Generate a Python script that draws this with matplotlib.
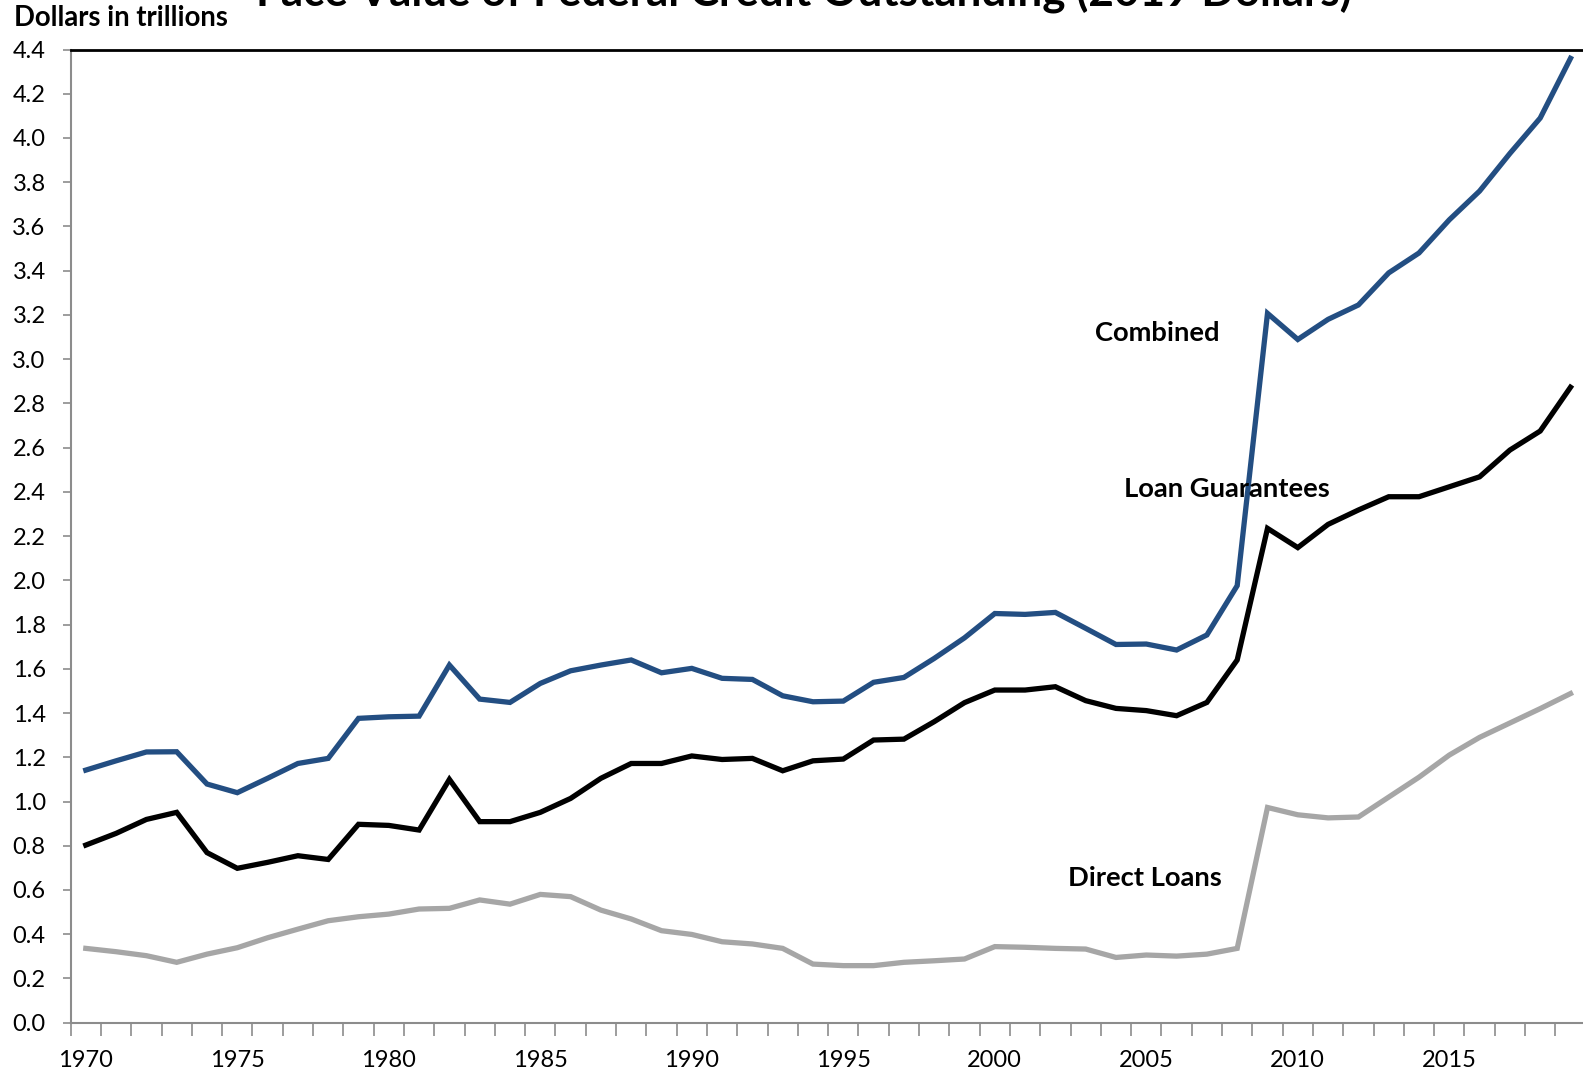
import matplotlib
matplotlib.use("Agg")
import matplotlib.pyplot as plt
import numpy as np

years = list(range(1970, 2020))

combined = [1.142, 1.184, 1.224, 1.225, 1.079, 1.040, 1.105, 1.172, 1.195, 1.376,
            1.383, 1.386, 1.617, 1.463, 1.448, 1.534, 1.591, 1.617, 1.640, 1.582,
            1.602, 1.557, 1.552, 1.478, 1.451, 1.454, 1.539, 1.561, 1.647, 1.740,
            1.850, 1.846, 1.855, 1.783, 1.710, 1.712, 1.685, 1.753, 1.976, 3.207,
            3.089, 3.180, 3.245, 3.390, 3.480, 3.630, 3.760, 3.930, 4.090, 4.360]

loan_guarantees = [0.803, 0.856, 0.919, 0.951, 0.769, 0.698, 0.725, 0.755, 0.738, 0.897,
                   0.892, 0.871, 1.100, 0.909, 0.909, 0.951, 1.014, 1.105, 1.172, 1.172,
                   1.206, 1.190, 1.195, 1.139, 1.184, 1.192, 1.278, 1.282, 1.361, 1.447,
                   1.504, 1.504, 1.519, 1.456, 1.421, 1.411, 1.388, 1.448, 1.640, 2.235,
                   2.148, 2.253, 2.318, 2.378, 2.378, 2.423, 2.468, 2.589, 2.675, 2.873]

direct_loans = [0.336, 0.321, 0.303, 0.273, 0.310, 0.339, 0.384, 0.423, 0.461, 0.479,
                0.491, 0.514, 0.517, 0.555, 0.536, 0.580, 0.570, 0.509, 0.469, 0.416,
                0.399, 0.366, 0.356, 0.336, 0.265, 0.258, 0.258, 0.273, 0.280, 0.288,
                0.344, 0.341, 0.336, 0.333, 0.295, 0.306, 0.301, 0.310, 0.336, 0.973,
                0.940, 0.926, 0.930, 1.020, 1.110, 1.210, 1.290, 1.355, 1.420, 1.488]

y_ticks = [0.0, 0.2, 0.4, 0.6, 0.8, 1.0, 1.2, 1.4, 1.6, 1.8, 2.0, 2.2,
           2.4, 2.6, 2.8, 3.0, 3.2, 3.4, 3.6, 3.8, 4.0, 4.2, 4.4]
x_label_years = [1970, 1975, 1980, 1985, 1990, 1995, 2000, 2005, 2010, 2015]

title = "Face Value of Federal Credit Outstanding (2019 Dollars)"
ylabel = "Dollars in trillions"

plt.rcParams['font.family'] = ['Lato', 'DejaVu Sans']

fig = plt.figure(figsize=(15.83, 10.73), dpi=100)
ax = fig.add_axes([70.65 / 1583, 1 - 1022.7 / 1073,
                   (1585.65 - 70.65) / 1583, (1022.7 - 49.5) / 1073])

ax.plot(years, combined, color='#234E82', lw=3.8, solid_joinstyle='miter', zorder=3)
ax.plot(years, loan_guarantees, color='black', lw=3.8, solid_joinstyle='miter', zorder=3)
ax.plot(years, direct_loans, color='#A6A6A6', lw=3.8, solid_joinstyle='miter', zorder=3)

ax.set_xlim(1969.5, 2019.5)
ax.set_ylim(0, 4.4)

ax.set_yticks(y_ticks)
ax.set_yticklabels([f"{v:.1f}" for v in y_ticks])
ax.set_xticks(x_label_years)
ax.set_xticklabels([str(y) for y in x_label_years])
ax.set_xticks(np.arange(1969.5, 2020.0, 1.0), minor=True)

ax.tick_params(axis='y', which='major', length=6, width=1.2, color='#8C8C8C',
               labelsize=17, pad=12, labelcolor='black')
ax.tick_params(axis='x', which='major', length=0, labelsize=17, pad=20)
ax.tick_params(axis='x', which='minor', length=9, width=1.2, color='#8C8C8C')

for s in ['left', 'bottom']:
    ax.spines[s].set_color('#8C8C8C')
    ax.spines[s].set_linewidth(1.5)
ax.spines['top'].set_color('black')
ax.spines['top'].set_linewidth(2.0)
ax.spines['right'].set_visible(False)

ax.text(2005.35, 3.118, "Combined", fontsize=19.7, fontweight='bold', ha='center', va='center')
ax.text(2007.65, 2.415, "Loan Guarantees", fontsize=19.7, fontweight='bold', ha='center', va='center')
ax.text(2004.95, 0.653, "Direct Loans", fontsize=19.7, fontweight='bold', ha='center', va='center')

fig.text(0.508, 1 - 6 / 1073, title, fontsize=31.7, fontweight='bold', ha='center', va='baseline')
fig.text(14 / 1583, 1 - 17.5 / 1073, ylabel, fontsize=19.8, fontweight='bold', ha='left', va='center')

fig.savefig("out.png", dpi=100)
